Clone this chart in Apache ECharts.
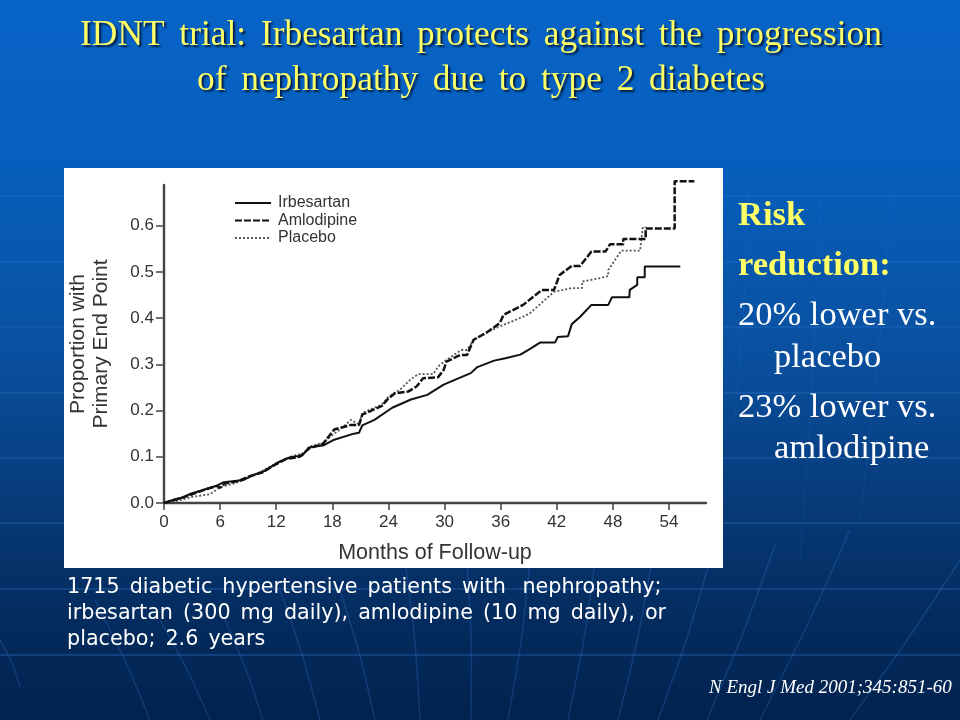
<!DOCTYPE html>
<html>
<head>
<meta charset="utf-8">
<style>html,body{margin:0;padding:0;background:#02234f}#chart{width:960px;height:720px}</style>
<script src="https://cdn.jsdelivr.net/npm/echarts@6/dist/echarts.min.js"></script>
</head>
<body>
<div id="chart"></div>
<script>
var irbesartanMonths = [0,1.2,2,2.85,4,5.7,6.4,8.5,9.5,10.7,12.1,13.5,14.8,15.5,17.1,18.2,20.3,20.85,21.2,22.5,24.4,26.4,28.15,29.9,31.4,32.8,33.5,35.3,36.5,38.1,39.1,40.2,41.8,42.1,43.2,43.6,44.5,45.7,47.5,47.9,49.75,49.8,50.6,50.6,51.4,51.4,55.2];
var irbesartanValues = [0,.008,.012,.02,.027,.038,.045,.05,.06,.069,.087,.099,.103,.12,.125,.137,.15,.152,.168,.18,.206,.224,.234,.256,.269,.281,.294,.308,.313,.321,.333,.347,.347,.359,.361,.387,.403,.4286,.4286,.445,.445,.461,.472,.4885,.4885,.5115,.5115];

var amlodipineMonths = [0,1,2,3,4.5,5.7,6,6.5,8,9,10.5,12,13,14.5,15.5,17,18.2,20,20.85,21.2,23.3,24,24.7,26.1,27,27.7,29.3,29.9,30.2,31.65,32.4,33.1,34.5,35.9,36.3,38.4,40.4,41.7,42.3,43.6,44.5,45.7,47.2,47.7,49.1,49.1,51.5,51.5,54.6,54.6,56.7];
var amlodipineValues = [0,.006,.012,.019,.03,.037,.033,.042,.048,.057,.066,.084,.095,.1,.118,.128,.159,.169,.169,.191,.21,.2266,.2374,.241,.252,.27,.272,.288,.306,.32,.32,.353,.369,.389,.407,.4286,.461,.461,.4935,.513,.513,.544,.544,.56,.56,.571,.571,.594,.594,.696,.696];

var placeboMonths = [0,1.5,3.1,4.9,6,8.1,10,12,13.5,15,15.5,17,18.2,19,20,20.85,21.2,23.3,24,25.2,26.3,27.2,28.8,29.3,30.2,31.8,32.4,33.1,34.5,35.9,38.4,39.1,41.7,43.6,44.7,44.7,46.5,47.5,47.5,48.9,50.9,51.2,51.5];
var placeboValues = [0,.005,.0136,.019,.034,.046,.064,.086,.1,.108,.122,.13,.15,.162,.18,.17,.195,.213,.23,.2446,.266,.279,.279,.295,.31,.331,.331,.353,.369,.382,.403,.41,.457,.465,.465,.479,.486,.491,.504,.546,.546,.597,.597];

var xTicks = [0,6,12,18,24,30,36,42,48,54];
var yTicks = [0,.1,.2,.3,.4,.5,.6];

// space + six-per-em space: the slide's word gaps are wider than one space
var wide = ' \u2006';
var titleLines = ['IDNT trial: Irbesartan protects against the progression', 'of nephropathy due to type 2 diabetes'];
var captionLines = ['1715 diabetic hypertensive patients with  nephropathy;', 'irbesartan (300 mg daily), amlodipine (10 mg daily), or', 'placebo; 2.6 years'];

function pairs(xs, ys) {
  return xs.map(function (x, i) { return [x, ys[i]]; });
}

function widen(lines) {
  return lines.map(function (l) { return l.replace(/ (?! )/g, wide); }).join('\n');
}

// faint lines of the slide template
var bgLines = [];
[196,262,327,393,458,523,589,655].forEach(function (y) {
  bgLines.push({ type: 'line', silent: true, z: -2, shape: { x1: 0, y1: y, x2: 960, y2: y },
    style: { stroke: 'rgba(70,150,250,' + (0.08 + y / 3000) + ')', lineWidth: 1.5 } });
});
[[0,640,20,687],[95,600,150,720],[160,620,210,720],[225,620,263,720],[280,590,320,720],[340,590,375,720],
 [405,560,420,720],[467,560,471,720],[530,560,508,720],[595,560,568,720],[652,560,618,720],[710,560,658,720],
 [775,545,707,720],[850,530,760,720],[960,560,850,720],[748,190,735,420],[820,200,800,560],[893,180,860,520]].forEach(function (c) {
  bgLines.push({ type: 'bezierCurve', silent: true, z: -2,
    shape: { x1: c[0], y1: c[1], cpx1: (c[0] + c[2]) / 2 + 3, cpy1: (c[1] + c[3]) / 2, cpx2: (c[0] + c[2]) / 2 + 3, cpy2: (c[1] + c[3]) / 2, x2: c[2], y2: c[3] },
    style: { stroke: 'rgba(70,150,250,' + (c[1] < 400 ? 0.07 : 0.2) + ')', fill: null, lineWidth: 1.5 } });
});

function slideText(x, y, text, font, fill, shadow) {
  return { type: 'text', silent: true, z: 5, x: x, y: y,
    style: { text: text, font: font, fill: fill, textVerticalAlign: 'middle',
      shadowColor: shadow ? 'rgba(0,0,20,0.75)' : 'transparent', shadowBlur: shadow ? 2 : 0,
      shadowOffsetX: shadow ? 2 : 0, shadowOffsetY: shadow ? 2 : 0 } };
}

var serif = '"Liberation Serif"';
var sans = 'Liberation Sans';
var chart = echarts.init(document.getElementById('chart'), null, { width: 960, height: 720 });

var axisColor = '#444';
var option = {
  animation: false,
  backgroundColor: {
    type: 'linear', x: 0, y: 0, x2: 0, y2: 1,
    colorStops: [
      { offset: 0, color: '#0763c6' },
      { offset: 0.2, color: '#0661c0' },
      { offset: 0.5, color: '#0a4f9e' },
      { offset: 0.8, color: '#053066' },
      { offset: 1, color: '#02224e' }
    ]
  },
  title: {
    text: widen(titleLines), left: 476, top: 8, textAlign: 'center',
    textStyle: { fontFamily: serif, fontWeight: 'normal', fontSize: 35.4, lineHeight: 45, color: '#ffff66',
      textShadowColor: 'rgba(0,0,20,0.75)', textShadowBlur: 2, textShadowOffsetX: 2, textShadowOffsetY: 2 }
  },
  legend: {
    orient: 'vertical', left: 229, top: 190, itemWidth: 36, itemHeight: 10, itemGap: 1.5,
    data: ['Irbesartan', 'Amlodipine', 'Placebo'],
    itemStyle: { opacity: 0 },
    textStyle: { fontFamily: sans, fontSize: 16, lineHeight: 14, color: '#333', padding: [0, 0, 0, 2] },
    z: 4
  },
  grid: { left: 164, top: 185, width: 542, height: 318, containLabel: false },
  xAxis: {
    type: 'value', min: 0, max: 57.95, interval: 6,
    name: 'Months of Follow-up', nameLocation: 'middle', nameGap: 39,
    nameTextStyle: { fontFamily: sans, fontSize: 21.5, color: '#333' },
    splitLine: { show: false },
    axisLine: { lineStyle: { color: axisColor, width: 2.4 } },
    axisTick: { length: 7, customValues: xTicks, lineStyle: { color: axisColor, width: 1.5 } },
    axisLabel: { customValues: xTicks, margin: 11, fontFamily: sans, fontSize: 17, color: '#333' }
  },
  yAxis: {
    type: 'value', min: 0, max: 0.688, interval: 0.1,
    name: 'Proportion with\nPrimary End Point', nameLocation: 'middle', nameGap: 51, nameRotate: 90,
    nameTextStyle: { fontFamily: sans, fontSize: 21, lineHeight: 23, color: '#333' },
    splitLine: { show: false },
    axisLine: { onZero: false, lineStyle: { color: axisColor, width: 2.4 } },
    axisTick: { length: 8, customValues: yTicks, lineStyle: { color: axisColor, width: 1.5 } },
    axisLabel: { customValues: yTicks, margin: 10, fontFamily: sans, fontSize: 17, color: '#333',
      formatter: function (v) { return v.toFixed(1); } }
  },
  series: [
    { name: 'Placebo', type: 'line', clip: false, symbol: 'none', z: 2,
      lineStyle: { color: '#555', width: 1.8, type: [2, 2] }, itemStyle: { color: '#555' },
      data: pairs(placeboMonths, placeboValues) },
    { name: 'Amlodipine', type: 'line', clip: false, symbol: 'none', z: 3,
      lineStyle: { color: '#111', width: 2.5, type: [7, 2] }, itemStyle: { color: '#111' },
      data: pairs(amlodipineMonths, amlodipineValues) },
    { name: 'Irbesartan', type: 'line', clip: false, symbol: 'none', z: 3,
      lineStyle: { color: '#111', width: 2 }, itemStyle: { color: '#111' },
      data: pairs(irbesartanMonths, irbesartanValues) }
  ],
  graphic: bgLines.concat([
    { type: 'rect', silent: true, z: -1, shape: { x: 64, y: 168, width: 659, height: 400 }, style: { fill: '#fff' } },
    slideText(738, 216.5, 'Risk', 'bold 34.5px ' + serif, '#ffff66', true),
    slideText(738, 266.5, 'reduction:', 'bold 34.5px ' + serif, '#ffff66', true),
    slideText(738, 316, '20% lower vs.', '34.5px ' + serif, '#fff', true),
    slideText(774, 358, 'placebo', '34.5px ' + serif, '#fff', true),
    slideText(738, 408, '23% lower vs.', '34.5px ' + serif, '#fff', true),
    slideText(774, 449, 'amlodipine', '34.5px ' + serif, '#fff', true),
    { type: 'text', silent: true, z: 5, x: 67, y: 575,
      style: { text: widen(captionLines), font: '20.7px "DejaVu Sans"', fill: '#fff', lineHeight: 26 } },
    slideText(709, 688, 'N Engl J Med 2001;345:851-60', 'italic 19px ' + serif, '#fff', false)
  ])
};
chart.setOption(option);
</script>
</body>
</html>
